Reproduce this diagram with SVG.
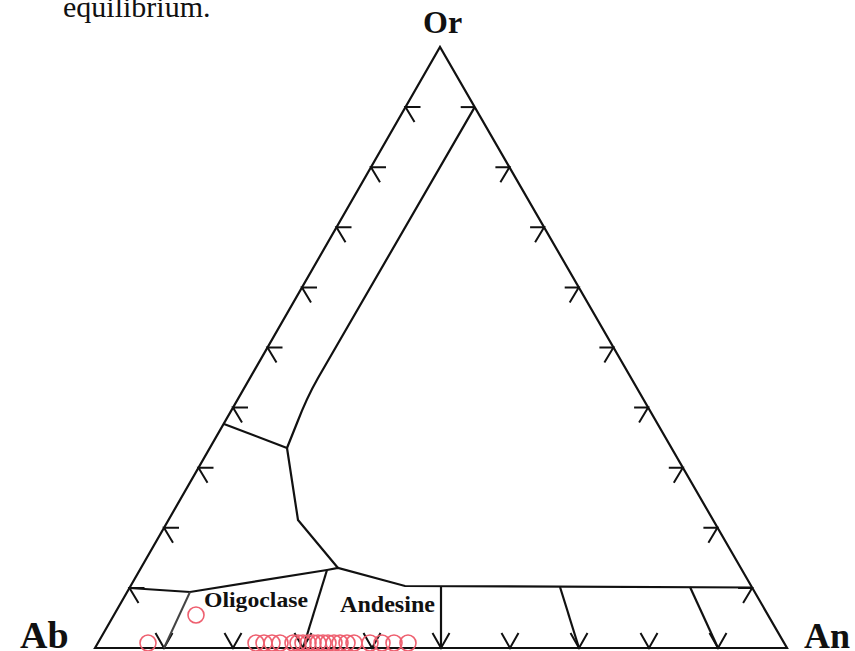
<svg xmlns="http://www.w3.org/2000/svg" width="855" height="651" viewBox="0 0 855 651">
  <style>
    .ln { fill: none; stroke: #111; stroke-width: 2.2; stroke-linejoin: miter; stroke-linecap: butt; }
    .tk { fill: none; stroke: #111; stroke-width: 2; }
    .gr { fill: none; stroke: #444; stroke-width: 2; }
    .lbl { font-family: "Liberation Serif", "Times New Roman", serif; font-weight: bold; fill: #111; }
    .cap { font-family: "Liberation Serif", "Times New Roman", serif; fill: #111; }
    .pt { fill: none; stroke: #ee5f6f; stroke-width: 1.6; }
  </style>
  <defs>
    <path id="tkL" d="M15,0 L0,0 L9,15"/>
    <path id="tkR" d="M-14,0 L0,0 L-9,15"/>
    <path id="tkB" d="M-8.5,-15 L0,0 L8.5,-15"/>
  </defs>
  <rect width="855" height="651" fill="#fff"/>

  <text class="cap" x="63" y="17" font-size="30">equilibrium.</text>

  <g id="apex-labels">
    <text class="lbl" x="423" y="33" font-size="32">Or</text>
    <text class="lbl" x="20" y="648" font-size="38">Ab</text>
    <text class="lbl" x="804" y="648" font-size="36">An</text>
  </g>

  <g id="triangle">
    <path class="ln" d="M95,648 L440,47 L787,648 Z"/>
  </g>

  <g id="ticks">
    <use href="#tkL" class="tk" x="405.5" y="107.1"/>
    <use href="#tkL" class="tk" x="371" y="167.2"/>
    <use href="#tkL" class="tk" x="336.5" y="227.3"/>
    <use href="#tkL" class="tk" x="302" y="287.4"/>
    <use href="#tkL" class="tk" x="267.5" y="347.5"/>
    <use href="#tkL" class="tk" x="233" y="407.6"/>
    <use href="#tkL" class="tk" x="198.5" y="467.7"/>
    <use href="#tkL" class="tk" x="164" y="527.8"/>
    <use href="#tkL" class="tk" x="129.5" y="587.9"/>

    <path class="tk" d="M460.7,107.1 L474.7,107.1"/>
    <use href="#tkR" class="tk" x="509.4" y="167.2"/>
    <use href="#tkR" class="tk" x="544.1" y="227.3"/>
    <use href="#tkR" class="tk" x="578.7" y="287.4"/>
    <use href="#tkR" class="tk" x="613.4" y="347.5"/>
    <use href="#tkR" class="tk" x="648.1" y="407.6"/>
    <use href="#tkR" class="tk" x="682.8" y="467.7"/>
    <use href="#tkR" class="tk" x="717.4" y="527.8"/>
    <use href="#tkR" class="tk" x="752.1" y="587.9"/>

    <use href="#tkB" class="tk" x="164" y="648"/>
    <use href="#tkB" class="tk" x="233" y="648"/>
    <use href="#tkB" class="tk" x="303" y="648"/>
    <use href="#tkB" class="tk" x="372" y="648"/>
    <use href="#tkB" class="tk" x="441" y="648"/>
    <use href="#tkB" class="tk" x="510" y="648"/>
    <use href="#tkB" class="tk" x="579" y="648"/>
    <use href="#tkB" class="tk" x="649" y="648"/>
    <use href="#tkB" class="tk" x="718" y="648"/>
  </g>

  <g id="connectors">
    <path class="ln" d="M474.7,107.1 L318,378 C310,392 302,410 297,423 L287,448"/>
    <path class="ln" d="M224,424 L287,448"/>
    <path class="ln" d="M287,448 L298,520 L338,568"/>
    <path class="ln" d="M129.5,588 L190,592 L327,570 L338,568 L405,586 L752,587.5"/>
    <path class="gr" d="M190,592 L164,648"/>
    <path class="ln" d="M327,570 L303,648"/>
    <path class="ln" d="M441,587 L441,648"/>
    <path class="ln" d="M560,587 L579,648"/>
    <path class="ln" d="M690,587 L718,648"/>
  </g>

  <g id="field-labels">
    <text class="lbl" x="204" y="607" font-size="22" textLength="104" lengthAdjust="spacingAndGlyphs">Oligoclase</text>
    <text class="lbl" x="340" y="612" font-size="23" textLength="95" lengthAdjust="spacingAndGlyphs">Andesine</text>
  </g>

  <g id="data-points">
    <circle class="pt" cx="196" cy="615" r="8"/>
    <circle class="pt" cx="148" cy="643" r="8"/>
    <circle class="pt" cx="256" cy="643" r="8"/>
    <circle class="pt" cx="264" cy="643" r="8"/>
    <circle class="pt" cx="272" cy="643" r="8"/>
    <circle class="pt" cx="280" cy="643" r="8"/>
    <circle class="pt" cx="293" cy="643" r="8"/>
    <circle class="pt" cx="298" cy="643" r="8"/>
    <circle class="pt" cx="303" cy="643" r="8"/>
    <circle class="pt" cx="308" cy="643" r="8"/>
    <circle class="pt" cx="313" cy="643" r="8"/>
    <circle class="pt" cx="318" cy="643" r="8"/>
    <circle class="pt" cx="323" cy="643" r="8"/>
    <circle class="pt" cx="328" cy="643" r="8"/>
    <circle class="pt" cx="334" cy="643" r="8"/>
    <circle class="pt" cx="340" cy="643" r="8"/>
    <circle class="pt" cx="347" cy="643" r="8"/>
    <circle class="pt" cx="354" cy="643" r="8"/>
    <circle class="pt" cx="370" cy="643" r="8"/>
    <circle class="pt" cx="382" cy="643" r="8"/>
    <circle class="pt" cx="394" cy="643" r="8"/>
    <circle class="pt" cx="408" cy="643" r="8"/>
  </g>
</svg>
